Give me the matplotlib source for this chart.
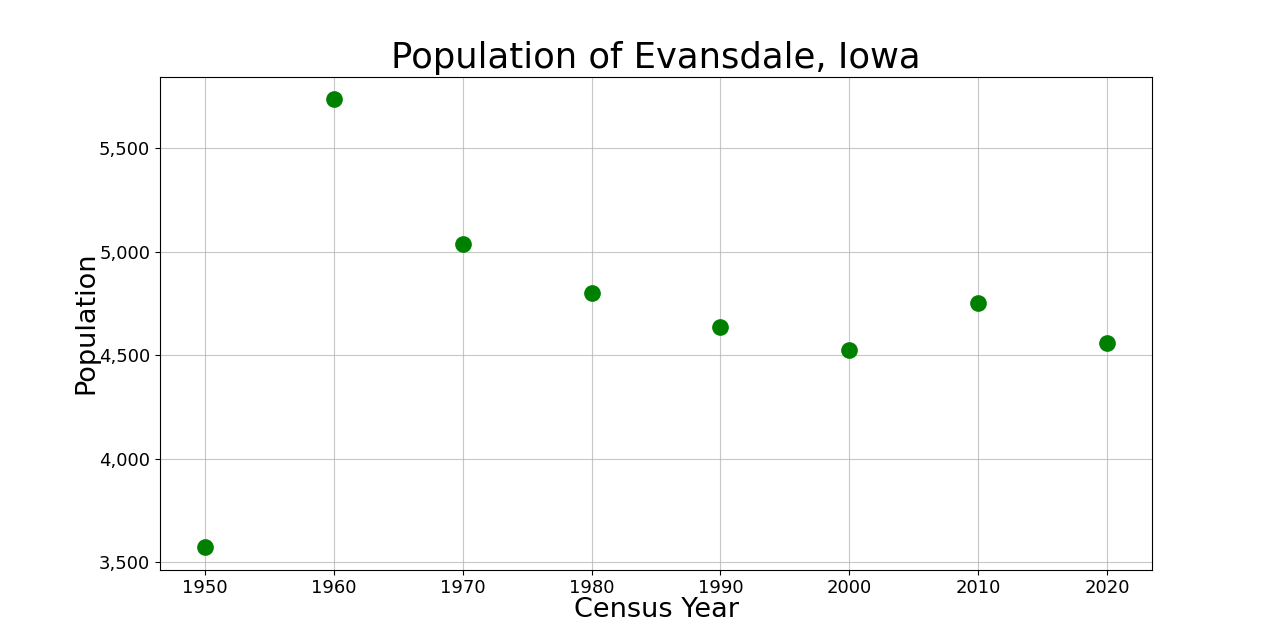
import matplotlib
matplotlib.use('Agg')
import matplotlib.pyplot as plt
from matplotlib.ticker import FuncFormatter

years = [1950, 1960, 1970, 1980, 1990, 2000, 2010, 2020]
population = [3571, 5738, 5038, 4800, 4638, 4526, 4751, 4561]

fig, ax = plt.subplots(figsize=(12.8, 6.4), dpi=100)
fig.subplots_adjust(left=0.125, right=0.9, top=0.88, bottom=0.11)
ax.plot(years, population, 'o', color='green', markersize=11, linestyle='none')
ax.set_title('Population of Evansdale, Iowa', fontsize=25.5)
ax.set_xlabel('Census Year', fontsize=19.5, labelpad=0)
ax.set_ylabel('Population', fontsize=19.5, labelpad=0)
ax.set_xticks(years)
ax.tick_params(labelsize=13)
ax.yaxis.set_major_formatter(FuncFormatter(lambda v, p: f'{int(v):,}'))
ax.grid(True, alpha=0.7)
fig.savefig('out.png', dpi=100)
